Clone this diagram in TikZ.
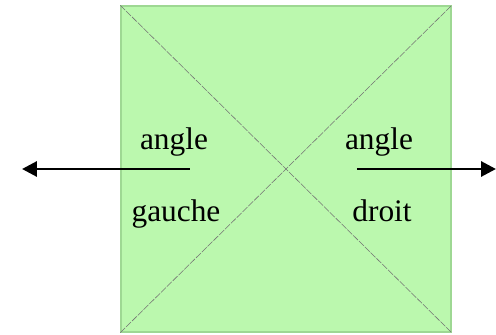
\documentclass[tikz,border=0pt]{standalone}
\usepackage{fontspec}
\setmainfont{Liberation Serif}
\usepackage{xcolor}
\usetikzlibrary{arrows.meta}
\definecolor{vert}{HTML}{BBF8AE}
\definecolor{bord}{HTML}{9ED893}

\begin{document}
\begin{tikzpicture}[x=0.44pt, y=-0.44pt,
  mot/.style={font=\fontsize{13.8}{16}\selectfont, inner sep=0pt, anchor=base},
  diag/.style={gray!90!black, line width=0.25pt, dash pattern=on 3pt off 0.6pt},
  fleche/.style={line width=1.3pt, -{Triangle[length=6.5pt, width=6.5pt]}}]
  \useasboundingbox (0,0) rectangle (496,335);
  \node[draw=bord, fill=vert, line width=0.6pt, minimum width=145.2pt, minimum height=143.4pt, inner sep=0pt] (carre) at (286,169) {};
  \draw[diag] (carre.north west) -- (carre.south east);
  \draw[diag] (carre.south west) -- (carre.north east);
  \node[mot] (ag1) at (174,150) {angle};
  \node[mot] (ag2) at (176,222) {gauche};
  \node[mot] (ad1) at (379,150) {angle};
  \node[mot] (ad2) at (382,222) {droit};
  \coordinate (dg) at (190,169); \coordinate (fg) at (22,169);
  \coordinate (dd) at (357,169); \coordinate (fd) at (496,169);
  \draw[fleche] (dg) -- (fg);
  \draw[fleche] (dd) -- (fd);
\end{tikzpicture}
\end{document}
